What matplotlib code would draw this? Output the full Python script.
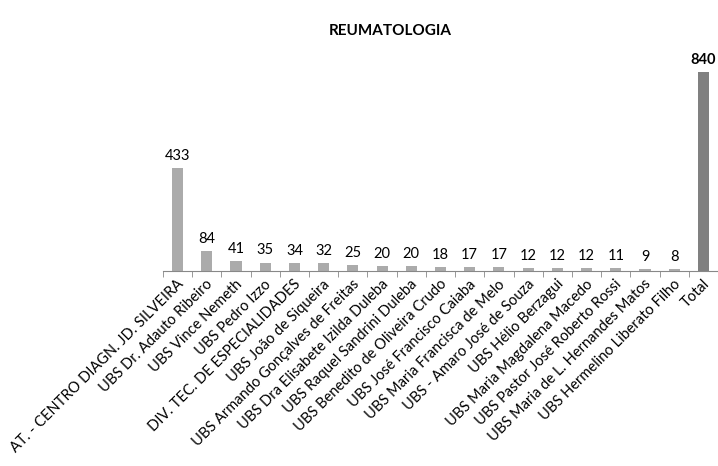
import matplotlib.pyplot as plt
import matplotlib.transforms as mtransforms
import numpy as np

categories = [
    "AT. - CENTRO DIAGN. JD. SILVEIRA",
    "UBS Dr. Adauto Ribeiro",
    "UBS Vince Nemeth",
    "UBS Pedro Izzo",
    "DIV. TEC. DE ESPECIALIDADES",
    "UBS João de Siqueira",
    "UBS Armando Gonçalves de Freitas",
    "UBS Dra Elisabete Izilda Duleba",
    "UBS Raquel Sandrini Duleba",
    "UBS Benedito de Oliveira Crudo",
    "UBS José Francisco Caiaba",
    "UBS Maria Francisca de Melo",
    "UBS - Amaro José de Souza",
    "UBS Hélio Berzagui",
    "UBS Maria Magdalena Macedo",
    "UBS Pastor José Roberto Rossi",
    "UBS Maria de L. Hernandes Matos",
    "UBS Hermelino Liberato Filho",
    "Total",
]
values = [433, 84, 41, 35, 34, 32, 25, 20, 20, 18, 17, 17, 12, 12, 12, 11, 9, 8, 840]

plt.rcParams['font.family'] = ['Lato', 'DejaVu Sans']

fig = plt.figure(figsize=(7.18, 4.66), dpi=100)
ax = fig.add_axes([0.227, 0.4185, 0.773, 0.4527])

x = np.arange(len(categories))
colors = ['#ABABAB'] * (len(values) - 1) + ['#808080']
ax.bar(x, values, width=0.38, color=colors)

for i, v in enumerate(values):
    last = i == len(values) - 1
    ax.text(i, v + 22, str(v), ha='center', va='bottom', fontsize=10.5,
            fontweight='bold' if last else 'normal', color='black')

ax.set_xlim(-0.5, len(categories) - 0.5)
ax.set_ylim(0, 891)
ax.set_xticks(x)
ax.set_xticklabels(categories, rotation=45, ha='right', va='center',
                   rotation_mode='anchor', fontsize=10.5)
ax.tick_params(axis='x', which='major', length=0, pad=8)
offset = mtransforms.ScaledTranslation(4 / 100, 0, fig.dpi_scale_trans)
for lbl in ax.get_xticklabels():
    lbl.set_transform(lbl.get_transform() + offset)
ax.set_xticks(np.arange(-0.5, len(categories)), minor=True)
ax.tick_params(axis='x', which='minor', length=4, color='#888888')
ax.set_yticks([])
for s in ['top', 'right', 'left']:
    ax.spines[s].set_visible(False)
ax.spines['bottom'].set_color('#888888')

fig.text(390 / 718, 1 - 31 / 466, "REUMATOLOGIA", ha='center', va='center',
         fontsize=11, fontweight='bold')

fig.savefig('out.png', dpi=100)
